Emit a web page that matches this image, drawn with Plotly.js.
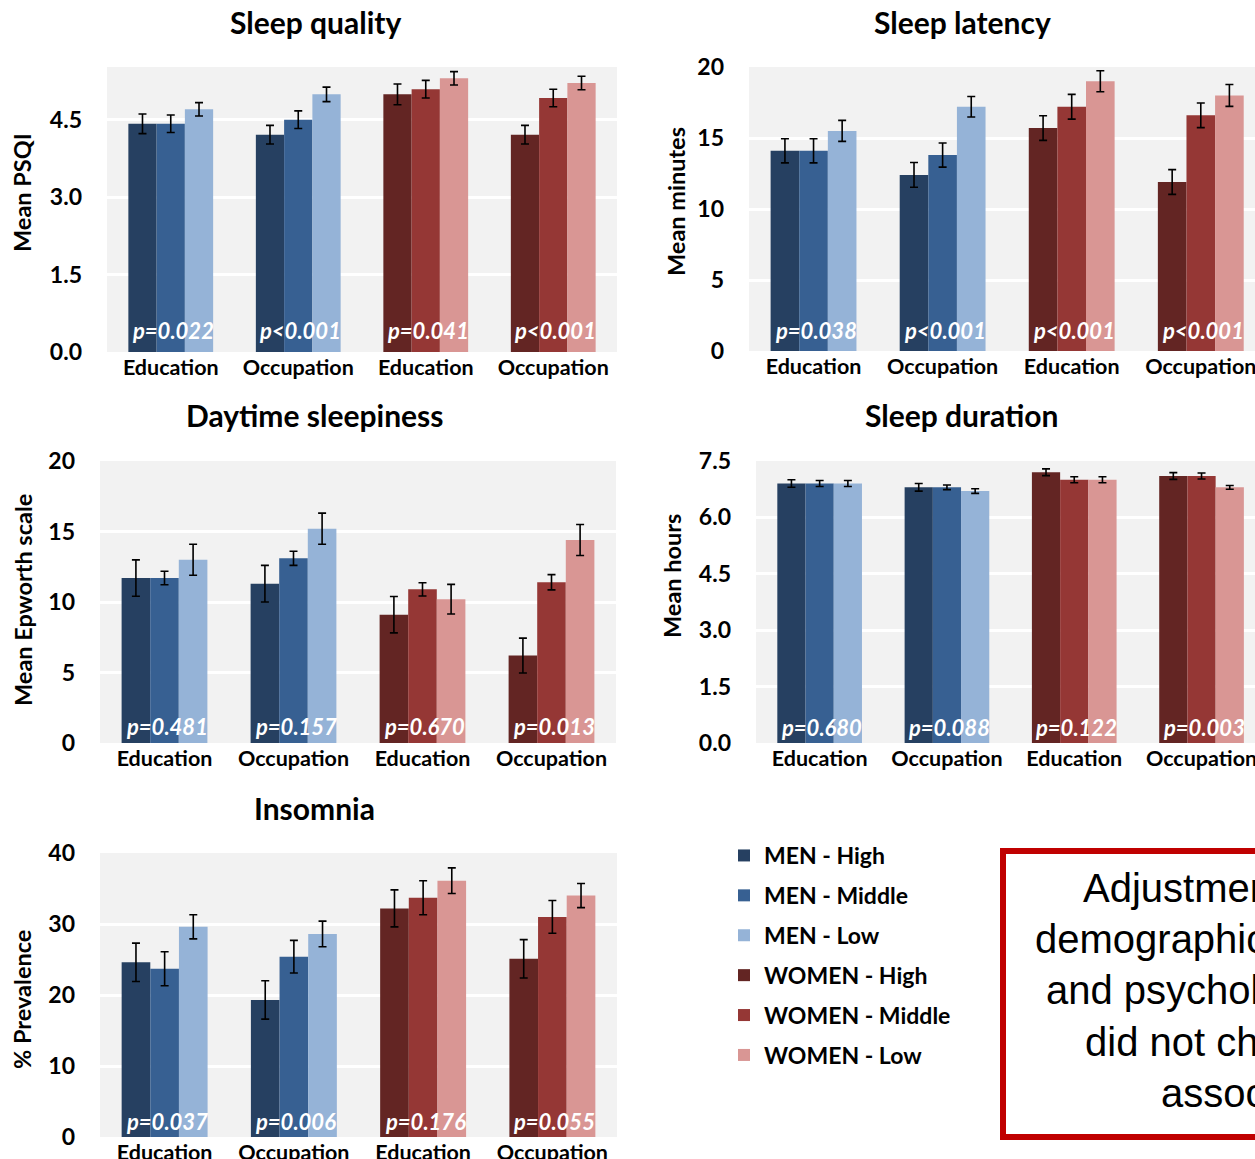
<!DOCTYPE html>
<html>
<head>
<meta charset="utf-8">
<script src="https://cdn.plot.ly/plotly-3.0.1.min.js"></script>
<style>
html,body{margin:0;padding:0;overflow:hidden;background:#fff;}
#chart{width:1255px;height:1159px;}
</style>
</head>
<body>
<div id="chart"></div>
<script>
// ---------------- DATA ----------------
// order inside each array: [MEN Education, MEN Occupation, WOMEN Education, WOMEN Occupation]
const groupLabels = ['Education', 'Occupation', 'Education', 'Occupation'];
const levels = ['High', 'Middle', 'Low'];
const seriesNames = ['MEN - High', 'MEN - Middle', 'MEN - Low', 'WOMEN - High', 'WOMEN - Middle', 'WOMEN - Low'];
const panelTitles = ['Sleep quality', 'Sleep latency', 'Daytime sleepiness', 'Sleep duration', 'Insomnia'];
const yTitles = ['Mean PSQI', 'Mean minutes', 'Mean Epworth scale', 'Mean hours', '% Prevalence'];

const qualityHigh = [4.42, 4.21, 4.99, 4.21];
const qualityMiddle = [4.42, 4.50, 5.09, 4.92];
const qualityLow = [4.70, 4.99, 5.30, 5.21];
const qualityHighErr = [0.19, 0.18, 0.20, 0.18];
const qualityMiddleErr = [0.17, 0.17, 0.17, 0.17];
const qualityLowErr = [0.13, 0.14, 0.13, 0.13];
const qualityP = ['p=0.022', 'p<0.001', 'p=0.041', 'p<0.001'];

const latencyHigh = [14.1, 12.4, 15.7, 11.9];
const latencyMiddle = [14.1, 13.8, 17.2, 16.6];
const latencyLow = [15.5, 17.2, 19.0, 18.0];
const latencyHighErr = [0.85, 0.87, 0.87, 0.87];
const latencyMiddleErr = [0.85, 0.85, 0.87, 0.87];
const latencyLowErr = [0.74, 0.72, 0.74, 0.77];
const latencyP = ['p=0.038', 'p<0.001', 'p<0.001', 'p<0.001'];

const sleepinessHigh = [11.7, 11.3, 9.1, 6.2];
const sleepinessMiddle = [11.7, 13.1, 10.9, 11.4];
const sleepinessLow = [13.0, 15.2, 10.2, 14.4];
const sleepinessHighErr = [1.29, 1.30, 1.29, 1.24];
const sleepinessMiddleErr = [0.48, 0.50, 0.47, 0.54];
const sleepinessLowErr = [1.10, 1.10, 1.05, 1.10];
const sleepinessP = ['p=0.481', 'p=0.157', 'p=0.670', 'p=0.013'];

const durationHigh = [6.9, 6.8, 7.2, 7.1];
const durationMiddle = [6.9, 6.8, 7.0, 7.1];
const durationLow = [6.9, 6.7, 7.0, 6.8];
const durationHighErr = [0.10, 0.10, 0.09, 0.09];
const durationMiddleErr = [0.08, 0.06, 0.08, 0.08];
const durationLowErr = [0.08, 0.06, 0.08, 0.05];
const durationP = ['p=0.680', 'p=0.088', 'p=0.122', 'p=0.003'];

const insomniaHigh = [24.6, 19.3, 32.2, 25.1];
const insomniaMiddle = [23.7, 25.4, 33.7, 31.0];
const insomniaLow = [29.6, 28.6, 36.1, 34.0];
const insomniaHighErr = [2.7, 2.7, 2.6, 2.7];
const insomniaMiddleErr = [2.4, 2.3, 2.4, 2.3];
const insomniaLowErr = [1.7, 1.8, 1.8, 1.7];
const insomniaP = ['p=0.037', 'p=0.006', 'p=0.176', 'p=0.055'];

const noteLines = ['Adjustment for socio-', 'demographic, behavioural,', 'and psychological factors', 'did not change these', 'associations'];

// ---------------- LAYOUT HELPERS ----------------
const W = 1255, H = 1159;
const PX = v => v / W;
const PY = v => 1 - v / H;

const colors = ['#264061', '#376092', '#95B3D7', '#632523', '#953735', '#D99694'];

const panelData = [
  {vals: [qualityHigh, qualityMiddle, qualityLow], errs: [qualityHighErr, qualityMiddleErr, qualityLowErr], p: qualityP},
  {vals: [latencyHigh, latencyMiddle, latencyLow], errs: [latencyHighErr, latencyMiddleErr, latencyLowErr], p: latencyP},
  {vals: [sleepinessHigh, sleepinessMiddle, sleepinessLow], errs: [sleepinessHighErr, sleepinessMiddleErr, sleepinessLowErr], p: sleepinessP},
  {vals: [durationHigh, durationMiddle, durationLow], errs: [durationHighErr, durationMiddleErr, durationLowErr], p: durationP},
  {vals: [insomniaHigh, insomniaMiddle, insomniaLow], errs: [insomniaHighErr, insomniaMiddleErr, insomniaLowErr], p: insomniaP}
];

// pixel geometry of each panel
const geo = [
  {x0: 107, x1: 617, xr: [-0.5, 3.5], y0: 67, y1: 352, yr: [0, 5.52], dtick: 1.5, fmt: '.1f',
   title: [315, 22], ytitle: [22, 193], pY: 331},
  {x0: 749, x1: 1255, xr: [-0.5, 3.42], y0: 67, y1: 351, yr: [0, 20], dtick: 5, fmt: 'd',
   title: [962, 22], ytitle: [676, 202], pY: 330},
  {x0: 100, x1: 616, xr: [-0.5, 3.5], y0: 461, y1: 743, yr: [0, 20], dtick: 5, fmt: 'd',
   title: [314, 415], ytitle: [23, 600], pY: 726},
  {x0: 756, x1: 1255, xr: [-0.5, 3.42], y0: 461, y1: 743, yr: [0, 7.5], dtick: 1.5, fmt: '.1f',
   title: [962, 415], ytitle: [672, 576], pY: 727},
  {x0: 100, x1: 617, xr: [-0.5, 3.5], y0: 853, y1: 1137, yr: [0, 40], dtick: 10, fmt: 'd',
   title: [314, 808], ytitle: [22, 1000], pY: 1121}
];

const FONT = 'Lato, "Open Sans", sans-serif';
const traces = [];
const layout = {
  width: W, height: H, autosize: false,
  margin: {l: 0, r: 0, t: 0, b: 0, pad: 0},
  paper_bgcolor: '#ffffff',
  plot_bgcolor: '#F2F2F2',
  barmode: 'group', bargap: 0.335, bargroupgap: 0,
  showlegend: true,
  legend: {
    x: PX(724), xanchor: 'left', y: PY(834), yanchor: 'top',
    font: {family: FONT, size: 23, color: '#000', weight: 'bold'},
    bgcolor: 'rgba(0,0,0,0)', borderwidth: 0, tracegroupgap: 7,
    traceorder: 'grouped', itemclick: false
  },
  annotations: [],
  shapes: []
};

panelData.forEach((pd, k) => {
  const g = geo[k];
  const n = k === 0 ? '' : String(k + 1);
  const xa = 'x' + n, ya = 'y' + n;
  // men then women so that legend order is MEN..., WOMEN...
  [0, 1].forEach(sex => {
    levels.forEach((lv, li) => {
      const si = sex * 3 + li;
      const idx = sex === 0 ? [0, 1] : [2, 3];
      traces.push({
        type: 'bar',
        name: seriesNames[si],
        legendgroup: seriesNames[si],
        showlegend: k === 0,
        x: idx,
        y: idx.map(i => pd.vals[li][i]),
        error_y: {type: 'data', array: idx.map(i => pd.errs[li][i]), visible: true,
                  color: '#000', thickness: 1.6, width: 4},
        marker: {color: colors[si], line: {width: 0}},
        offsetgroup: lv,
        xaxis: xa, yaxis: ya,
        hoverinfo: 'none'
      });
    });
  });

  layout['xaxis' + n] = {
    domain: [PX(g.x0), PX(g.x1)], anchor: ya, range: g.xr, fixedrange: true,
    tickmode: 'array', tickvals: [0, 1, 2, 3], ticktext: groupLabels,
    showgrid: false, zeroline: false, showline: false, ticks: '',
    ticklabeloverflow: 'allow',
    tickfont: {family: FONT, size: 21.5, color: '#000', weight: 'bold'}
  };
  layout['yaxis' + n] = {
    domain: [PY(g.y1), PY(g.y0)], anchor: xa, range: g.yr, fixedrange: true,
    dtick: g.dtick, tick0: 0, tickformat: g.fmt,
    showgrid: true, gridcolor: '#ffffff', gridwidth: 3,
    zeroline: false, showline: false, ticks: '', ticklabelstandoff: 24,
    tickfont: {family: FONT, size: 23, color: '#000', weight: 'bold'}
  };

  // panel title
  layout.annotations.push({
    xref: 'paper', yref: 'paper', x: PX(g.title[0]), y: PY(g.title[1]),
    xanchor: 'center', yanchor: 'middle', showarrow: false,
    text: '<b>' + panelTitles[k] + '</b>',
    font: {family: FONT, size: 30, color: '#000'}
  });
  // y-axis title
  layout.annotations.push({
    xref: 'paper', yref: 'paper', x: PX(g.ytitle[0]), y: PY(g.ytitle[1]),
    xanchor: 'center', yanchor: 'middle', showarrow: false, textangle: -90,
    text: '<b>' + yTitles[k] + '</b>',
    font: {family: FONT, size: 23.5, color: '#000'}
  });
  // p-values
  pd.p.forEach((t, i) => {
    layout.annotations.push({
      xref: xa, yref: 'paper', x: i, y: PY(g.pY), xshift: 2,
      xanchor: 'center', yanchor: 'middle', showarrow: false,
      text: '<b><i>' + t + '</i></b>',
      font: {family: FONT, size: 22, color: '#ffffff'}
    });
  });
});

// note box (cropped by right edge in the reference)
layout.shapes.push({
  type: 'rect', xref: 'paper', yref: 'paper',
  x0: PX(1003), x1: PX(1600), y0: PY(1137), y1: PY(851),
  line: {color: '#C00000', width: 6}, fillcolor: '#ffffff', layer: 'above'
});
noteLines.forEach((t, i) => {
  layout.annotations.push({
    xref: 'paper', yref: 'paper', x: PX(1271), y: PY(888 + i * 51.2),
    xanchor: 'center', yanchor: 'middle', showarrow: false, align: 'center',
    text: t,
    font: {family: '"Liberation Sans", Arial, sans-serif', size: 40, color: '#000'}
  });
});

Plotly.newPlot('chart', traces, layout, {displayModeBar: false, staticPlot: true});
</script>
</body>
</html>
